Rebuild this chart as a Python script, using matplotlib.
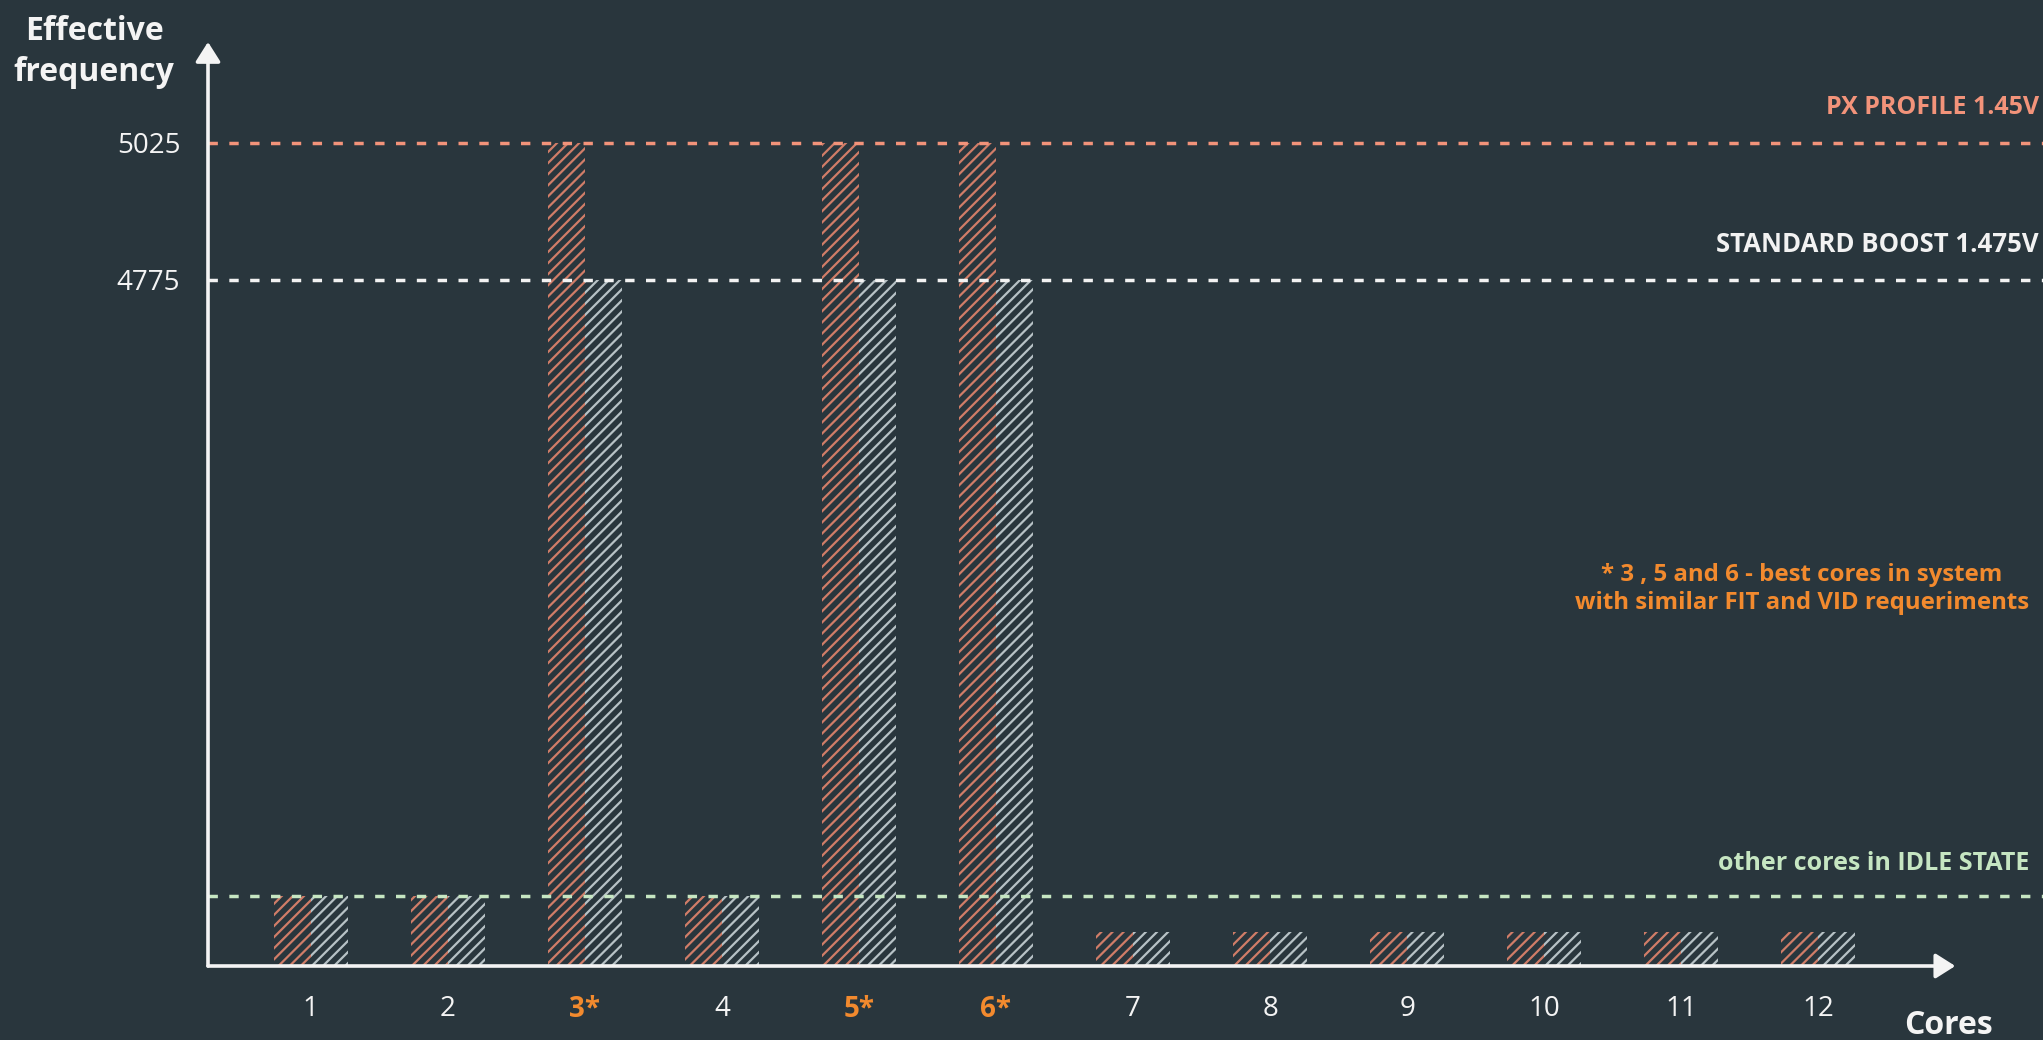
import matplotlib
matplotlib.use('Agg')
import matplotlib.pyplot as plt
import numpy as np

# ---------------- data ----------------
cores = ['1', '2', '3*', '4', '5*', '6*', '7', '8', '9', '10', '11', '12']
best_cores = ['3*', '5*', '6*']
px_profile = [3650, 3650, 5025, 3650, 5025, 5025, 3585, 3585, 3585, 3585, 3585, 3585]
standard_boost = [3650, 3650, 4775, 3650, 4775, 4775, 3585, 3585, 3585, 3585, 3585, 3585]
y_ticks = [4775, 5025]
px_level = 5025
std_level = 4775
idle_level = 3650
axis_base = 3523
axis_top = 5209

# ---------------- style ----------------
BG = '#29363d'
ORANGE_HATCH = '#d07d68'
GREY_HATCH = '#b7c2c6'
PX_COLOR = '#f2937a'
STD_COLOR = '#f2f2f2'
IDLE_COLOR = '#c6e6c2'
NOTE_COLOR = '#f28a2e'
WHITE = '#f4f4f4'

plt.rcParams['font.family'] = ['Open Sans', 'DejaVu Sans']
plt.rcParams['hatch.linewidth'] = 1.6

W, H = 2043, 1040
fig = plt.figure(figsize=(W / 100, H / 100), dpi=100)
fig.patch.set_facecolor(BG)

ax_left, ax_bottom, ax_top = 208, 74, 998
ax = fig.add_axes([ax_left / W, ax_bottom / H, (W - ax_left) / W, (ax_top - ax_bottom) / H])
ax.set_facecolor(BG)

x = np.arange(1, len(cores) + 1)
xlim = (0.25, 13.64)
ax.set_xlim(*xlim)
ax.set_ylim(axis_base, axis_top)

bw = 0.27
off = 0.135
ax.bar(x - off, np.array(px_profile) - axis_base, bottom=axis_base, width=bw,
       facecolor='none', edgecolor=ORANGE_HATCH, hatch='///', linewidth=0, zorder=2)
ax.bar(x + off, np.array(standard_boost) - axis_base, bottom=axis_base, width=bw,
       facecolor='none', edgecolor=GREY_HATCH, hatch='///', linewidth=0, zorder=2)

dash = (0, (2.7, 3.3))
for lvl, col in [(px_level, PX_COLOR), (std_level, STD_COLOR), (idle_level, IDLE_COLOR)]:
    ax.axhline(lvl, color=col, lw=2.5, linestyle=dash, zorder=3)

for s in ax.spines.values():
    s.set_visible(False)

# axes arrows
arrow_style = '-|>,head_length=0.6,head_width=0.38'
ax.annotate('', xy=(13.0, axis_base), xytext=(xlim[0], axis_base),
            arrowprops=dict(arrowstyle=arrow_style, color=WHITE,
                            lw=2.6, shrinkA=0, shrinkB=0, mutation_scale=20),
            annotation_clip=False, zorder=5)
ax.annotate('', xy=(xlim[0], axis_top), xytext=(xlim[0], axis_base),
            arrowprops=dict(arrowstyle=arrow_style, color=WHITE,
                            lw=2.6, shrinkA=0, shrinkB=0, mutation_scale=20),
            annotation_clip=False, zorder=5)

# ticks
ax.set_xticks(x)
ax.set_xticklabels(cores, fontsize=20)
for lbl in ax.get_xticklabels():
    if lbl.get_text() in best_cores:
        lbl.set_color(NOTE_COLOR)
        lbl.set_fontweight('bold')
    else:
        lbl.set_color(WHITE)
ax.set_yticks(y_ticks)
ax.set_yticklabels([str(v) for v in y_ticks], fontsize=20, color=WHITE)
ax.tick_params(axis='x', length=0, pad=21)
ax.tick_params(axis='y', length=0, pad=20)

# texts
fig.text(94 / W, 1 - 52 / H, 'Effective\nfrequency', ha='center', va='center',
         fontsize=23, fontweight='bold', color=WHITE, linespacing=1.3)
fig.text(1948 / W, 1 - 1025 / H, 'Cores', ha='center', va='center',
         fontsize=23, fontweight='bold', color=WHITE)
fig.text(2039 / W, 1 - 108 / H, 'PX PROFILE 1.45V', ha='right', va='center',
         fontsize=18, fontweight='bold', color=PX_COLOR)
fig.text(2039 / W, 1 - 245 / H, 'STANDARD BOOST 1.475V', ha='right', va='center',
         fontsize=18.5, fontweight='bold', color=STD_COLOR)
fig.text(2029 / W, 1 - 864 / H, 'other cores in IDLE STATE', ha='right', va='center',
         fontsize=18, fontweight='bold', color=IDLE_COLOR)
fig.text(1802 / W, 1 - 589 / H, '* 3 , 5 and 6 - best cores in system\nwith similar FIT and VID requeriments',
         ha='center', va='center', fontsize=17.3, fontweight='bold', color=NOTE_COLOR,
         linespacing=1.25)

fig.savefig('out.png', dpi=100, facecolor=BG)
